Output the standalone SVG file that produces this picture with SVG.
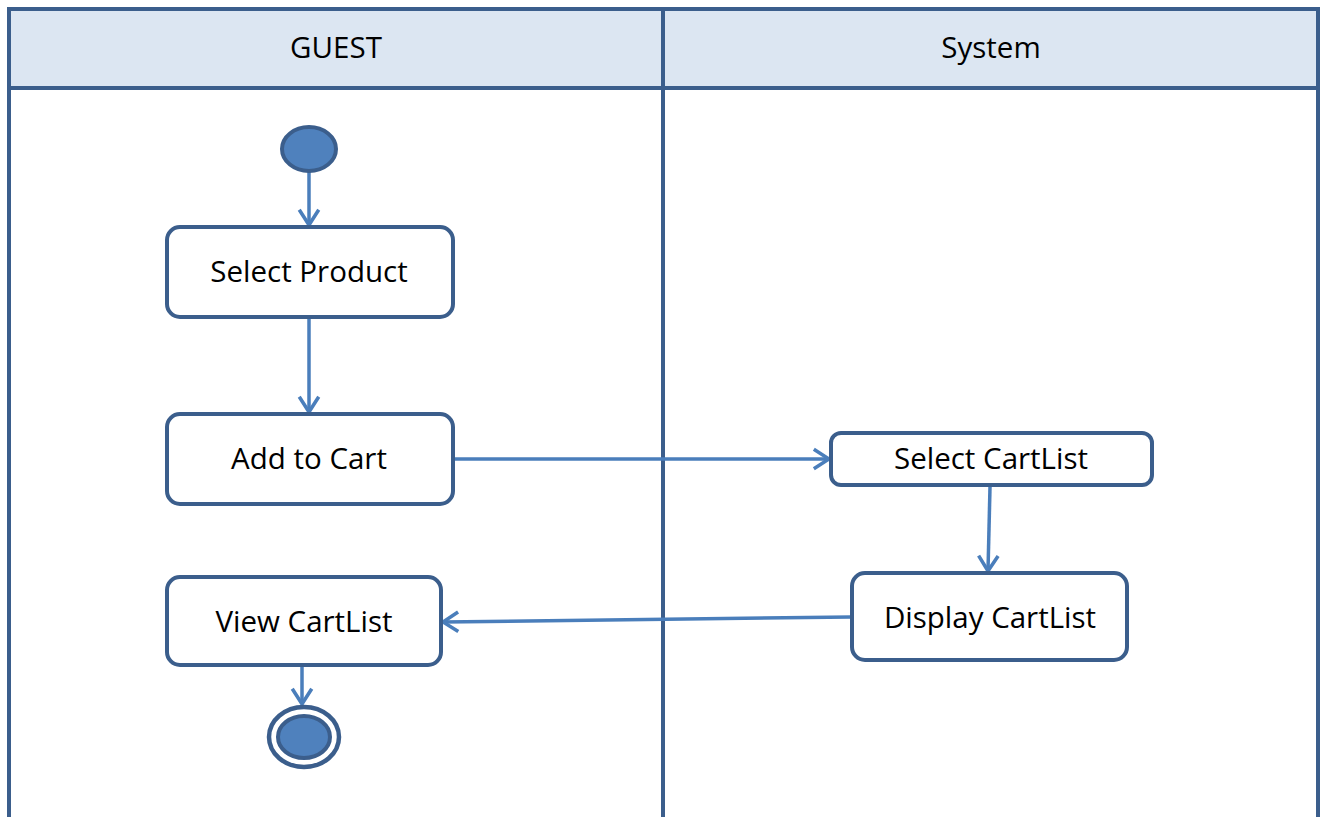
<svg xmlns="http://www.w3.org/2000/svg" width="1333" height="817" viewBox="0 0 1333 817">
<style>
.lane{fill:none;stroke:#3B5E8C;stroke-width:4}
.head{fill:#DCE6F2;stroke:#3B5E8C;stroke-width:4}
.act{fill:#FFFFFF;stroke:#3B5E8C;stroke-width:4}
.dot{fill:#4F81BD;stroke:#3B5E8C;stroke-width:4}
.lbl{font-family:"Open Sans","Liberation Sans",sans-serif;font-size:29.5px;fill:#000;text-anchor:middle}
.conn{fill:none;stroke:#4A7EBB;stroke-width:3.5}
</style>
<defs>
<marker id="arrow" viewBox="0 0 24 24" refX="22" refY="12" markerWidth="26" markerHeight="26" markerUnits="userSpaceOnUse" orient="auto">
<path d="M8,3 L22,12 L8,21" fill="none" stroke="#4A7EBB" stroke-width="3.3"/>
</marker>
</defs>
<g id="lanes">
<rect class="head" x="9" y="9" width="1309" height="79"/>
<line class="lane" x1="9" y1="9" x2="9" y2="817"/>
<line class="lane" x1="1318" y1="9" x2="1318" y2="817"/>
<line class="lane" x1="663" y1="9" x2="663" y2="817"/>
<text class="lbl" x="336" y="58">GUEST</text>
<text class="lbl" x="991" y="58">System</text>
</g>
<g id="connectors">
<line class="conn" x1="309" y1="172" x2="309" y2="225" marker-end="url(#arrow)"/>
<line class="conn" x1="309" y1="318" x2="309" y2="412" marker-end="url(#arrow)"/>
<line class="conn" x1="455" y1="459" x2="829" y2="459" marker-end="url(#arrow)"/>
<line class="conn" x1="990" y1="487" x2="988" y2="571" marker-end="url(#arrow)"/>
<line class="conn" x1="851" y1="617" x2="443" y2="622" marker-end="url(#arrow)"/>
<line class="conn" x1="302" y1="667" x2="302" y2="704" marker-end="url(#arrow)"/>
</g>
<g id="start"><ellipse class="dot" cx="309" cy="149" rx="27" ry="22"/></g>
<g id="select-product"><rect class="act" x="167" y="227" width="286" height="90" rx="13"/><text class="lbl" x="309" y="282">Select Product</text></g>
<g id="add-to-cart"><rect class="act" x="167" y="414" width="286" height="90" rx="13"/><text class="lbl" x="309" y="469">Add to Cart</text></g>
<g id="view-cartlist"><rect class="act" x="167" y="577" width="274" height="88" rx="13"/><text class="lbl" x="304" y="632">View CartList</text></g>
<g id="end"><ellipse cx="304" cy="737" rx="35" ry="30" fill="#FFFFFF" stroke="#3B5E8C" stroke-width="4.5"/><ellipse class="dot" cx="304" cy="737" rx="26" ry="21"/></g>
<g id="select-cartlist"><rect class="act" x="831" y="433" width="321" height="52" rx="10"/><text class="lbl" x="991" y="469">Select CartList</text></g>
<g id="display-cartlist"><rect class="act" x="852" y="573" width="275" height="87" rx="13"/><text class="lbl" x="990" y="628">Display CartList</text></g>
</svg>
